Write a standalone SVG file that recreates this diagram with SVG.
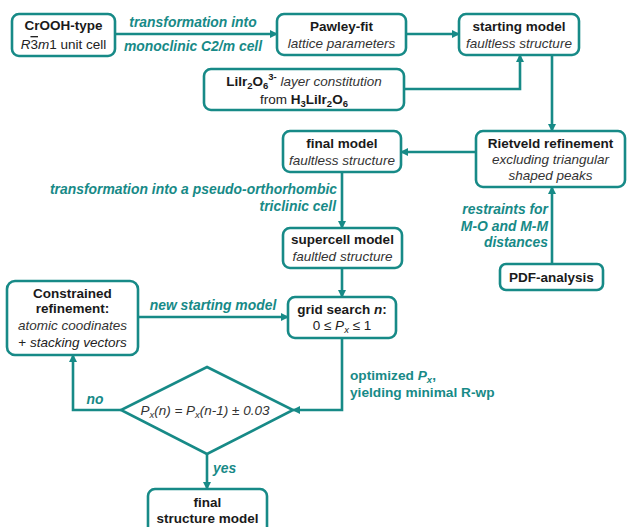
<svg xmlns="http://www.w3.org/2000/svg" width="628" height="527" viewBox="0 0 628 527">
<defs>
<marker id="ah" markerWidth="8" markerHeight="8" refX="7" refY="4" orient="auto" markerUnits="userSpaceOnUse">
<path d="M0,0 L8,4 L0,8 z" fill="#178a87"/>
</marker>
<style>
.box{fill:#fff;stroke:#178a87;stroke-width:2.6}
.ln{fill:none;stroke:#178a87;stroke-width:2.6;marker-end:url(#ah)}
text{font-family:"Liberation Sans",Arial,sans-serif;font-size:13.5px}
.b{font-weight:bold;fill:#1a1a1a}
.i{font-style:italic;fill:#333}
.r{fill:#222}
.lab{font-weight:bold;font-style:italic;fill:#178a87;font-size:13.9px}
.labn{font-weight:bold;fill:#178a87;font-size:13.7px}
.c{text-anchor:middle}
.e{text-anchor:end}
</style>
</defs>
<rect width="628" height="527" fill="#fff"/>
<g id="connectors">
<path class="ln" d="M115,34 H277"/>
<path class="ln" d="M406,34 H459"/>
<path class="ln" d="M404,89 H520 V55"/>
<path class="ln" d="M552,55 V131"/>
<path class="ln" d="M476,152 H401"/>
<path class="ln" d="M342,172 V228"/>
<path class="ln" d="M342,268 V297"/>
<path class="ln" d="M552,264 V187"/>
<path class="ln" d="M138,317 H288"/>
<path class="ln" d="M342,338 V410 H293"/>
<path class="ln" d="M121,410 H73 V355"/>
<path class="ln" d="M207,454 V489"/>
<text class="lab c" x="193" y="27">transformation into</text>
<text class="lab c" x="193" y="51">monoclinic C2/m cell</text>
<text class="lab e" x="337" y="194">transformation into a pseudo-orthorhombic</text>
<text class="lab e" x="336" y="211">triclinic cell</text>
<text class="lab e" x="548" y="214">restraints for</text>
<text class="lab e" x="548" y="231">M-O and M-M</text>
<text class="lab e" x="548" y="247">distances</text>
<text class="lab c" x="213" y="310">new starting model</text>
<text class="labn" x="350" y="380">optimized <tspan font-style="italic">P</tspan><tspan font-style="italic" font-size="9.5px" dy="3">x</tspan><tspan dy="-3">,</tspan></text>
<text class="labn" x="350" y="397">yielding minimal R-wp</text>
<text class="lab c" x="95" y="404">no</text>
<text class="lab" x="213" y="473">yes</text>
</g>
<g id="crooh">
<rect class="box" x="12" y="14" width="103" height="42" rx="7"/>
<text class="b c" x="63.5" y="30">CrOOH-type</text>
<text class="r c" x="63.5" y="49"><tspan font-style="italic">R</tspan><tspan text-decoration="overline">3</tspan><tspan font-style="italic">m</tspan>1 unit cell</text>
</g>
<g id="pawley">
<rect class="box" x="277" y="14" width="129" height="41" rx="7"/>
<text class="b c" x="341.5" y="31">Pawley-fit</text>
<text class="i c" x="341.5" y="48">lattice parameters</text>
</g>
<g id="starting">
<rect class="box" x="459" y="14" width="120" height="41" rx="7"/>
<text class="b c" x="519" y="31">starting model</text>
<text class="i c" x="519" y="48">faultless structure</text>
</g>
<g id="liir">
<rect class="box" x="204" y="69" width="200" height="41" rx="7"/>
<text class="c" x="304" y="86"><tspan class="b">LiIr</tspan><tspan class="b" font-size="9.5px" dy="3">2</tspan><tspan class="b" dy="-3">O</tspan><tspan class="b" font-size="9.5px" dy="3">6</tspan><tspan class="b" font-size="9.5px" dy="-9">3-</tspan><tspan class="i" dy="6">  layer constitution</tspan></text>
<text class="c r" x="304" y="104">from <tspan class="b">H</tspan><tspan class="b" font-size="9.5px" dy="3">3</tspan><tspan class="b" dy="-3">LiIr</tspan><tspan class="b" font-size="9.5px" dy="3">2</tspan><tspan class="b" dy="-3">O</tspan><tspan class="b" font-size="9.5px" dy="3">6</tspan></text>
</g>
<g id="rietveld">
<rect class="box" x="476" y="131" width="149" height="56" rx="7"/>
<text class="b c" x="550.5" y="148">Rietveld refinement</text>
<text class="i c" x="550.5" y="164">excluding triangular</text>
<text class="i c" x="550.5" y="180">shaped peaks</text>
</g>
<g id="final">
<rect class="box" x="283" y="131" width="118" height="41" rx="7"/>
<text class="b c" x="342" y="148">final model</text>
<text class="i c" x="342" y="165">faultless structure</text>
</g>
<g id="supercell">
<rect class="box" x="283" y="228" width="119" height="40" rx="7"/>
<text class="b c" x="342.5" y="244">supercell model</text>
<text class="i c" x="342.5" y="261">faultled structure</text>
</g>
<g id="pdf">
<rect class="box" x="500" y="264" width="103" height="26" rx="6"/>
<text class="b c" x="551.5" y="282">PDF-analysis</text>
</g>
<g id="grid">
<rect class="box" x="288" y="297" width="108" height="41" rx="7"/>
<text class="b c" x="342" y="314">grid search <tspan font-style="italic">n</tspan>:</text>
<text class="r c" x="342" y="330">0 ≤ <tspan font-style="italic">P</tspan><tspan font-style="italic" font-size="9.5px" dy="3">x</tspan><tspan dy="-3"> ≤ 1</tspan></text>
</g>
<g id="constrained">
<rect class="box" x="7" y="281" width="131" height="74" rx="8"/>
<text class="b c" x="72.5" y="298">Constrained</text>
<text class="b c" x="72.5" y="313">refinement:</text>
<text class="i c" x="72.5" y="330">atomic coodinates</text>
<text class="r c" x="72.5" y="347">+ <tspan font-style="italic">stacking vectors</tspan></text>
</g>
<g id="decision">
<polygon class="box" points="207,367 293,410 207,454 121,410"/>
<text class="i c" x="205" y="415">P<tspan font-size="9.5px" dy="3">x</tspan><tspan dy="-3">(n) = P</tspan><tspan font-size="9.5px" dy="3">x</tspan><tspan dy="-3">(n-1) ± 0.03</tspan></text>
</g>
<g id="finalstructure">
<rect class="box" x="148" y="489" width="119" height="45" rx="7"/>
<text class="b c" x="207.5" y="507">final</text>
<text class="b c" x="207.5" y="523">structure model</text>
</g>
</svg>
